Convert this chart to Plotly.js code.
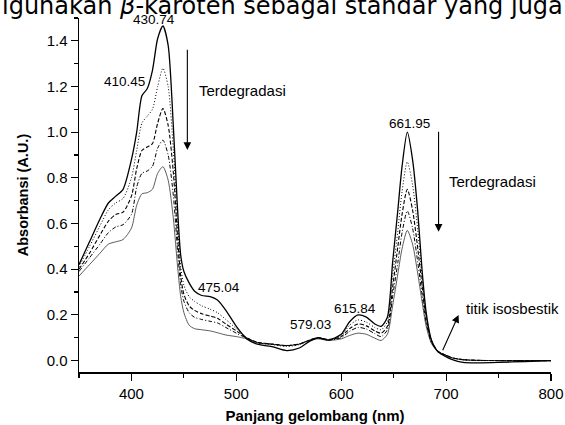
<!DOCTYPE html>
<html><head><meta charset="utf-8">
<script src="https://cdn.plot.ly/plotly-3.0.1.min.js"></script>
<style>html,body{margin:0;padding:0;background:#fff}#chart{width:565px;height:425px}</style>
</head><body><div id="chart"></div>
<script>
const wavelength = [350,360,370,378,385,392,400,405,410,415,420,425,430,435,440,444,447,450,455,460,467,475,482,490,500,510,520,535,548,560,570,578,588,600,608,616,624,632,638,644,649,654,658,663,668,673,677,681,686,692,698,706,716,730,750,775,800];

const absSolid = [0.42,0.52,0.62,0.69,0.72,0.75,0.88,1.00,1.16,1.19,1.27,1.41,1.465,1.38,1.02,0.66,0.46,0.39,0.34,0.305,0.285,0.28,0.265,0.22,0.15,0.095,0.072,0.06,0.044,0.055,0.085,0.10,0.09,0.115,0.17,0.20,0.19,0.16,0.15,0.19,0.43,0.66,0.85,1.00,0.88,0.65,0.40,0.21,0.09,0.04,0.022,0.004,-0.008,-0.01,-0.008,-0.004,0.0];

const absDot = [0.41,0.50,0.59,0.66,0.69,0.71,0.80,0.92,1.04,1.07,1.10,1.20,1.28,1.20,0.92,0.60,0.41,0.33,0.28,0.26,0.24,0.225,0.21,0.18,0.14,0.10,0.078,0.07,0.062,0.07,0.09,0.10,0.092,0.11,0.155,0.178,0.168,0.145,0.135,0.17,0.37,0.57,0.74,0.87,0.77,0.57,0.37,0.20,0.09,0.042,0.027,0.012,0.003,0.0,0.0,0.0,0.0];

const absDash = [0.40,0.47,0.55,0.61,0.64,0.65,0.72,0.84,0.92,0.935,0.95,1.04,1.104,1.03,0.82,0.54,0.37,0.29,0.24,0.22,0.205,0.195,0.185,0.16,0.13,0.10,0.08,0.072,0.065,0.072,0.09,0.10,0.092,0.105,0.14,0.16,0.152,0.13,0.12,0.15,0.32,0.50,0.64,0.75,0.66,0.49,0.33,0.18,0.085,0.042,0.027,0.012,0.004,0.001,0.0,0.0,0.0];

const absDashDot = [0.39,0.45,0.51,0.56,0.585,0.595,0.64,0.76,0.82,0.83,0.85,0.93,0.965,0.90,0.72,0.48,0.33,0.26,0.21,0.19,0.18,0.172,0.165,0.145,0.12,0.098,0.08,0.072,0.066,0.073,0.09,0.098,0.09,0.10,0.128,0.145,0.138,0.118,0.105,0.135,0.28,0.43,0.56,0.655,0.58,0.43,0.29,0.165,0.08,0.041,0.027,0.012,0.004,0.001,0.0,0.0,0.0];

const absThin = [0.37,0.42,0.47,0.51,0.52,0.53,0.58,0.68,0.73,0.735,0.75,0.82,0.849,0.79,0.62,0.41,0.28,0.21,0.155,0.14,0.135,0.13,0.122,0.112,0.105,0.095,0.078,0.07,0.066,0.072,0.088,0.095,0.088,0.095,0.11,0.12,0.115,0.098,0.088,0.115,0.24,0.38,0.49,0.57,0.51,0.38,0.26,0.15,0.075,0.039,0.026,0.012,0.004,0.001,0.0,0.0,0.0];

const peakLabels = ['430.74','410.45','475.04','579.03','615.84','661.95'];
const noteTexts = ['Terdegradasi','Terdegradasi','titik isosbestik'];
const topText = 'igunakan <i>β</i>-karoten sebagai standar yang juga';
const xTitle = 'Panjang gelombang (nm)';
const yTitle = 'Absorbansi (A.U.)';

const mk = (y, dash, width, color) => ({
  x: wavelength, y: y, type: 'scatter', mode: 'lines',
  line: {shape: 'spline', smoothing: 0.7, dash: dash, width: width, color: color},
  hoverinfo: 'skip', showlegend: false
});

const data = [
  mk(absThin, 'solid', 0.8, '#333'),
  mk(absDashDot, '4px,2px,1px,2px', 1, '#000'),
  mk(absDash, '4px,2px', 1.1, '#000'),
  mk(absDot, '1px,2px', 1, '#000'),
  mk(absSolid, 'solid', 1.3, '#000')
];

const numFont = {family: 'Liberation Sans, Arial, sans-serif', size: 13.5, color: '#000'};
const noteFont = {family: 'Liberation Sans, Arial, sans-serif', size: 15, color: '#000'};
const lab = (t, x, y, f) => ({text: t, x: x, y: y, xref: 'x', yref: 'y', showarrow: false, font: f || numFont, xanchor: 'center', yanchor: 'middle'});
const arr = (x, y, ax, ay) => ({text: '', x: x, y: y, ax: ax, ay: ay, xref: 'x', yref: 'y', axref: 'x', ayref: 'y', showarrow: true, arrowhead: 2, arrowsize: 1.4, arrowwidth: 1.1, arrowcolor: '#000'});

const annotations = [
  {text: topText, xref: 'paper', yref: 'paper', x: -79/472, y: 0.9895, xanchor: 'left', yanchor: 'bottom', showarrow: false,
   font: {family: 'DejaVu Sans, sans-serif', size: 24, color: '#000'}},
  {text: peakLabels[0], x: 421.5, y: 0.996, xref: 'x', yref: 'paper', showarrow: false, font: numFont, xanchor: 'center', yanchor: 'middle'},
  lab(peakLabels[1], 393.4, 1.224),
  lab(peakLabels[2], 483.6, 0.318),
  lab(peakLabels[3], 570.4, 0.156),
  lab(peakLabels[4], 612.9, 0.228),
  lab(peakLabels[5], 665.4, 1.04),
  lab(noteTexts[0], 505.5, 1.184, noteFont),
  lab(noteTexts[1], 744.6, 0.786, noteFont),
  lab(noteTexts[2], 763.6, 0.227, noteFont),
  arr(453.3, 0.922, 453.3, 1.368),
  arr(692.8, 0.564, 692.8, 1.009),
  arr(711.9, 0.20, 696.1, 0.039)
];

const tickFont = {family: 'Liberation Sans, Arial, sans-serif', size: 15, color: '#000'};
const layout = {
  width: 565, height: 425,
  margin: {l: 79, r: 14, t: 18, b: 53, pad: 0},
  paper_bgcolor: '#fff', plot_bgcolor: '#fff',
  xaxis: {
    range: [350, 800], tick0: 0, dtick: 100, ticks: 'outside', ticklen: 7, tickwidth: 1.2, tickcolor: '#000',
    showline: true, linecolor: '#000', linewidth: 1.5, showgrid: false, zeroline: false,
    tickfont: tickFont, mirror: false,
    minor: {dtick: 50, ticks: 'outside', ticklen: 4, tickwidth: 1.2, tickcolor: '#000', showgrid: false},
    title: {text: '<b>' + xTitle + '</b>', font: {family: 'Liberation Sans, Arial, sans-serif', size: 15, color: '#000'}, standoff: 10}
  },
  yaxis: {
    range: [-0.05, 1.5], tick0: 0, dtick: 0.2, tickformat: '.1f', ticks: 'outside', ticklen: 7, tickwidth: 1.2, tickcolor: '#000',
    showline: true, linecolor: '#000', linewidth: 1.5, showgrid: false, zeroline: false,
    tickfont: tickFont,
    minor: {dtick: 0.1, ticks: 'outside', ticklen: 4, tickwidth: 1.2, tickcolor: '#000', showgrid: false},
    title: {text: '<b>' + yTitle + '</b>', font: {family: 'Liberation Sans, Arial, sans-serif', size: 14.5, color: '#000'}, standoff: 14}
  },
  annotations: annotations
};

Plotly.newPlot('chart', data, layout, {displayModeBar: false, staticPlot: true});
</script>
</body></html>
